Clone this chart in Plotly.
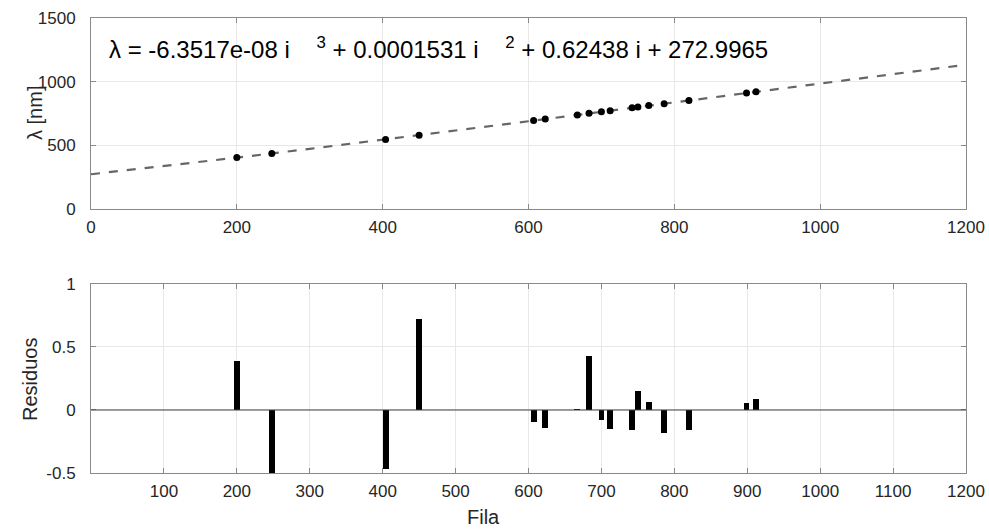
import plotly.graph_objects as go

# Data
fila = [200, 248, 404, 450, 607, 623, 667, 683, 700, 712, 742, 750, 765, 786, 820, 899, 912]
lam = [403.9, 435.7, 545.6, 579.9, 694.1, 705.9, 738.7, 751.1, 763.2, 772.1,
       794.5, 800.7, 811.9, 827.3, 852.8, 912.0, 921.7]
residuos = [0.39, -0.55, -0.47, 0.725, -0.098, -0.14, 0.005, 0.43, -0.08, -0.15,
            -0.156, 0.148, 0.066, -0.18, -0.156, 0.052, 0.09]

# Fitted polynomial curve (values of the stated fit, sampled every 100 rows)
fit_x = [0, 100, 200, 300, 400, 500, 600, 700, 800, 900, 1000, 1100, 1200]
fit_y = [273.0, 336.9, 403.5, 472.4, 543.2, 615.5, 689.0, 763.3, 838.0, 912.7,
         987.0, 1060.5, 1133.0]

top_xticks = [0, 200, 400, 600, 800, 1000, 1200]
top_yticks = [0, 500, 1000, 1500]
bot_xticks = [100, 200, 300, 400, 500, 600, 700, 800, 900, 1000, 1100, 1200]
bot_yticks = [-0.5, 0, 0.5, 1]
bot_yticklabels = ["-0.5", "0", "0.5", "1"]

FONT = "Liberation Sans, Arial, Helvetica, sans-serif"
AXC = "#8a8a8a"
TXT = "#262626"
GRID = "#e8e8e8"

fig = go.Figure()
fig.add_trace(go.Scatter(x=fit_x, y=fit_y, mode="lines",
                         line=dict(color="#666666", width=2.2, dash="dash"),
                         xaxis="x", yaxis="y", showlegend=False))
fig.add_trace(go.Scatter(x=fila, y=lam, mode="markers",
                         marker=dict(color="black", size=7),
                         xaxis="x", yaxis="y", showlegend=False))
fig.add_trace(go.Bar(x=fila, y=residuos, width=8, marker=dict(color="black", line=dict(width=0)),
                     xaxis="x2", yaxis="y2", showlegend=False))

common_ax = dict(showline=True, linecolor=AXC, linewidth=1, mirror="ticks",
                 ticks="inside", ticklen=5, tickcolor=AXC, showgrid=True,
                 gridcolor=GRID, gridwidth=1, zeroline=False, automargin=False,
                 tickfont=dict(family=FONT, size=17, color=TXT))

fig.update_layout(
    width=989, height=529,
    margin=dict(l=91, r=23, t=18, b=56),
    plot_bgcolor="white", paper_bgcolor="white",
    font=dict(family=FONT, color=TXT),
    bargap=0,
    xaxis=dict(domain=[0, 1], range=[0, 1200], tickvals=top_xticks, anchor="y",
               ticklabelstandoff=3, **common_ax),
    yaxis=dict(domain=[0.5802, 1], range=[0, 1500], tickvals=top_yticks, anchor="x",
               ticklabelstandoff=11, **common_ax),
    xaxis2=dict(domain=[0, 1], range=[0, 1200], tickvals=bot_xticks, anchor="y2",
                ticklabelstandoff=3, **common_ax),
    yaxis2=dict(domain=[0, 0.4154], range=[-0.5, 1], tickvals=bot_yticks,
                ticktext=bot_yticklabels, anchor="x2", ticklabelstandoff=11, **common_ax),
)

# baseline of the residual bars
fig.add_shape(type="line", xref="x2 domain", yref="y2", x0=0, x1=1, y0=0, y1=0,
              line=dict(color="#404040", width=1.2))

# axis titles
TF = dict(family=FONT, size=20, color=TXT)
fig.add_annotation(text="λ [nm]", xref="paper", yref="paper", x=(35 - 91) / 875,
                   y=(473 - 113) / 455, textangle=-90, showarrow=False, font=TF,
                   xanchor="center", yanchor="middle")
fig.add_annotation(text="Residuos", xref="paper", yref="paper", x=(30 - 91) / 875,
                   y=(473 - 380) / 455, textangle=-90, showarrow=False, font=TF,
                   xanchor="center", yanchor="middle")
fig.add_annotation(text="Fila", xref="paper", yref="paper", x=(483 - 91) / 875,
                   y=(473 - 517) / 455, showarrow=False, font=TF,
                   xanchor="center", yanchor="middle")

sp = "\u00a0"
eq = ("λ = -6.3517e-08 i" + sp * 4 + "<sup>3</sup> + 0.0001531 i" + sp * 4 +
      "<sup>2</sup> + 0.62438 i + 272.9965")
fig.add_annotation(text=eq, xref="x", yref="y", x=22, y=1265, xanchor="left", yanchor="middle",
                   showarrow=False, font=dict(family=FONT, size=24, color="black"))

fig.write_html("out.html", config={"displayModeBar": False},
               post_script="document.body.style.margin='0';")
